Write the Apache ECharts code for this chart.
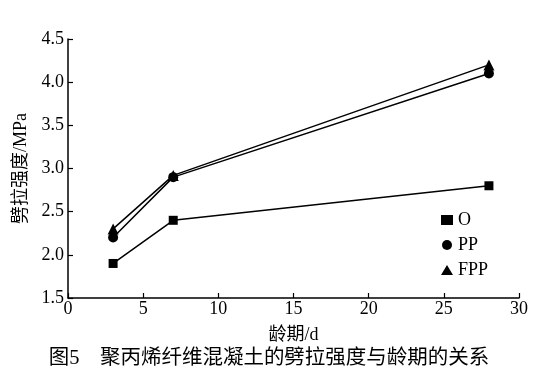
<!DOCTYPE html>
<html><head><meta charset="utf-8">
<script src="https://cdn.jsdelivr.net/npm/echarts@6/dist/echarts.min.js"></script>
<style>html,body{margin:0;padding:0;background:#fff}#c{width:538px;height:378px}</style>
</head><body><div id="c"></div>
<script>
const ages = [3, 7, 28];
const seriesNames = ['O', 'PP', 'FPP'];
const valuesO = [1.9, 2.4, 2.8];
const valuesPP = [2.2, 2.9, 4.1];
const valuesFPP = [2.3, 2.92, 4.2];
const symbols = ['rect', 'circle', 'triangle'];
const xTicks = [0, 5, 10, 15, 20, 25, 30];
const yTicks = [1.5, 2.0, 2.5, 3.0, 3.5, 4.0, 4.5];
const xName = '龄期/d';
const yName = '劈拉强度/MPa';
const caption = '图5　聚丙烯纤维混凝土的劈拉强度与龄期的关系';

const FONT = '"Liberation Serif", "Noto Sans CJK SC", serif';
const allValues = [valuesO, valuesPP, valuesFPP];
const sizes = [9, 10, 11];
const chart = echarts.init(document.getElementById('c'), null, {renderer: 'canvas'});
chart.setOption({
  backgroundColor: '#fff',
  animation: false,
  title: {
    text: caption, left: 'center', bottom: 4,
    textStyle: {fontFamily: FONT, fontSize: 20.5, fontWeight: 'normal', color: '#000'}
  },
  legend: {
    orient: 'vertical', left: 436, top: 206, itemGap: 7,
    itemWidth: 12, itemHeight: 10,
    data: seriesNames.map((n, i) => ({name: n, icon: symbols[i]})),
    textStyle: {fontFamily: FONT, fontSize: 18, color: '#000'}
  },
  grid: {left: 68, right: 19, top: 39, bottom: 80, containLabel: false, outerBoundsMode: 'none'},
  xAxis: {
    type: 'value', min: xTicks[0], max: xTicks[xTicks.length - 1], interval: 5,
    name: xName, nameLocation: 'middle', nameGap: 28,
    nameTextStyle: {fontFamily: FONT, fontSize: 18, color: '#000'},
    axisLine: {lineStyle: {color: '#000', width: 1.5}},
    axisTick: {inside: true, length: 5, lineStyle: {color: '#000', width: 1.2}},
    axisLabel: {fontFamily: FONT, fontSize: 18, color: '#000', margin: 2},
    splitLine: {show: false}
  },
  yAxis: {
    type: 'value', min: yTicks[0], max: yTicks[yTicks.length - 1], interval: 0.5,
    name: yName, nameLocation: 'middle', nameGap: 38, nameRotate: 90,
    nameTextStyle: {fontFamily: FONT, fontSize: 18, color: '#000'},
    axisLine: {lineStyle: {color: '#000', width: 1.5}},
    axisTick: {inside: true, length: 5, lineStyle: {color: '#000', width: 1.2}},
    axisLabel: {fontFamily: FONT, fontSize: 18, color: '#000', margin: 4,
      formatter: v => v.toFixed(1)},
    splitLine: {show: false}
  },
  series: seriesNames.map((n, i) => ({
    name: n, type: 'line',
    data: ages.map((a, j) => [a, allValues[i][j]]),
    symbol: symbols[i], symbolSize: sizes[i],
    itemStyle: {color: '#000'},
    lineStyle: {color: '#000', width: 1.5}
  }))
});
</script></body></html>
